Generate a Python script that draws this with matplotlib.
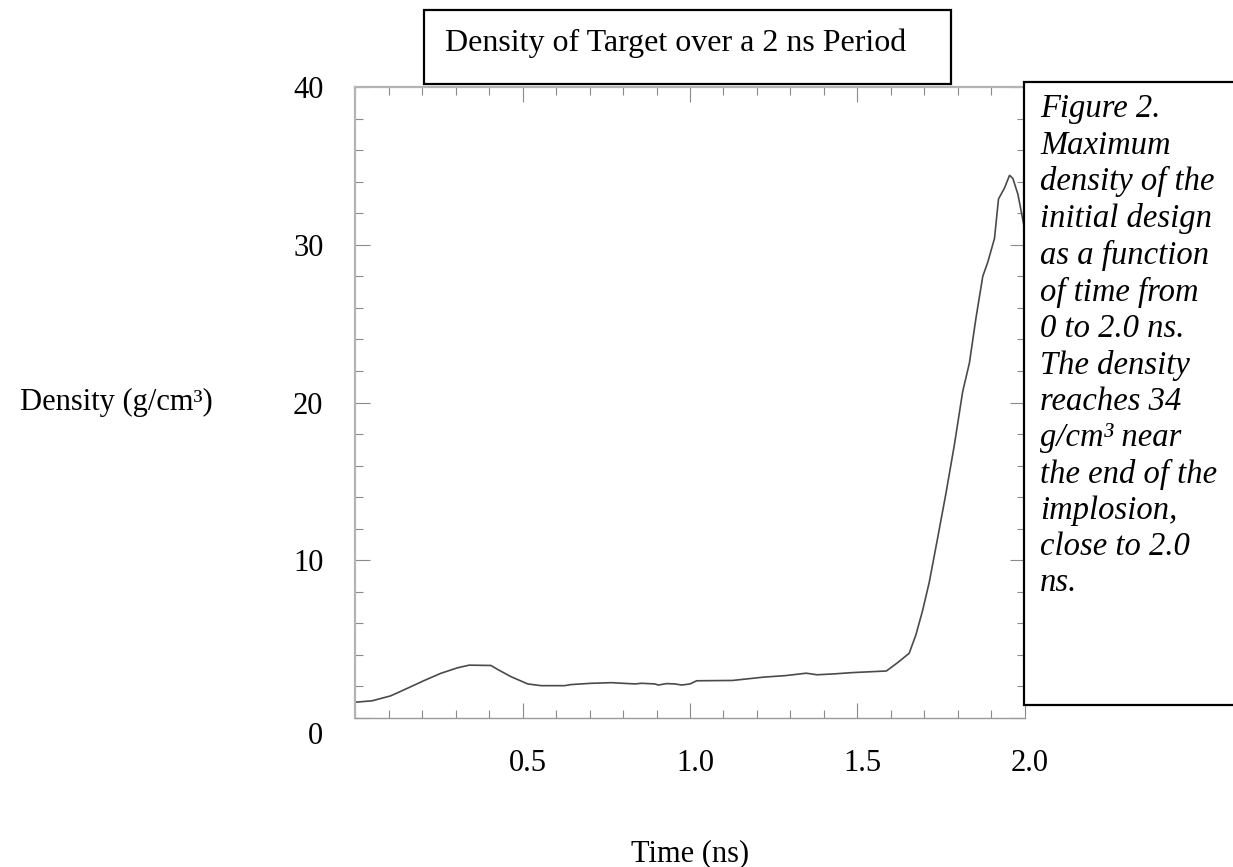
import matplotlib
matplotlib.use("Agg")
import matplotlib.pyplot as plt
import matplotlib.transforms as mtransforms
from matplotlib.patches import Rectangle
from matplotlib.ticker import MultipleLocator

plt.rcParams['font.family'] = ['Liberation Serif', 'DejaVu Serif']

# ===================== Data ==================

time_ns = [0.0, 0.05, 0.105, 0.155, 0.205, 0.255, 0.305, 0.34, 0.405, 0.425,
           0.465, 0.515, 0.555, 0.625, 0.645, 0.705, 0.765, 0.835, 0.855, 0.895,
           0.905, 0.93, 0.955, 0.975, 1.0, 1.02, 1.127, 1.22, 1.287, 1.347,
           1.38, 1.433, 1.487, 1.587, 1.62, 1.655, 1.675, 1.695, 1.715, 1.74,
           1.765, 1.79, 1.815, 1.835, 1.855, 1.875, 1.89, 1.91, 1.922, 1.94,
           1.955, 1.965, 1.98, 2.0]
density = [1.0, 1.09, 1.40, 1.88, 2.37, 2.83, 3.18, 3.35, 3.33, 3.08,
           2.62, 2.16, 2.05, 2.05, 2.12, 2.2, 2.24, 2.16, 2.2, 2.16,
           2.09, 2.18, 2.16, 2.09, 2.16, 2.36, 2.38, 2.59, 2.69, 2.84,
           2.74, 2.80, 2.88, 2.98, 3.5, 4.1, 5.26, 6.8, 8.6, 11.4,
           14.25, 17.3, 20.7, 22.5, 25.4, 28.0, 28.9, 30.4, 32.9, 33.6,
           34.4, 34.2, 33.2, 31.0]

x_ticks = [0.5, 1.0, 1.5, 2.0]
x_tick_labels = ['0.5', '1.0', '1.5', '2.0']
y_ticks = [0, 10, 20, 30, 40]
y_tick_labels = ['0', '10', '20', '30', '40']

title = 'Density of Target over a 2 ns Period'
caption_lines = ['Figure 2.', 'Maximum', 'density of the', 'initial design',
                 'as a function', 'of time from', '0 to 2.0 ns.', 'The density',
                 'reaches 34', 'g/cm\u00b3 near', 'the end of the', 'implosion,',
                 'close to 2.0', 'ns.']

# ===================== Figure ==================

W, H = 1233, 867
fig = plt.figure(figsize=(W / 100, H / 100), dpi=100)
fig.patch.set_facecolor('white')


def fx(px):
    return px / W


def fy(py):
    return 1 - py / H


ax = fig.add_axes([fx(355.4), fy(718), fx(1024.6) - fx(355.4), fy(87) - fy(718)])
ax.plot(time_ns, density, color='#4a4a4a', lw=1.2)
ax.set_xlim(0, 2.0)
ax.set_ylim(0, 40)

ax.set_xticks(x_ticks)
ax.set_xticklabels(x_tick_labels)
ax.set_yticks(y_ticks)
ax.set_yticklabels(y_tick_labels)
ax.xaxis.set_minor_locator(MultipleLocator(0.1))
ax.yaxis.set_minor_locator(MultipleLocator(2))

ax.tick_params(which='both', direction='in', top=True, right=True,
               color='#8a8a8a', width=0.8, labelsize=22)
ax.tick_params(which='major', length=11)
ax.tick_params(which='minor', length=5.5)
ax.tick_params(axis='x', pad=22)
ax.tick_params(axis='y', pad=23)

# the "0" label sits a bit lower than its tick in the original
for lab in ax.get_yticklabels():
    if lab.get_text() == '0':
        lab.set_transform(lab.get_transform() +
                          mtransforms.ScaledTranslation(0, -15 / 100, fig.dpi_scale_trans))
for lab in ax.get_xticklabels():
    lab.set_transform(lab.get_transform() +
                      mtransforms.ScaledTranslation(5 / 100, 0, fig.dpi_scale_trans))

for side in ['left', 'top']:
    ax.spines[side].set_color('#b4b4b4')
    ax.spines[side].set_linewidth(1.6)
ax.spines['bottom'].set_color('#9a9a9a')
ax.spines['bottom'].set_linewidth(1.0)
ax.spines['right'].set_visible(False)

# title box
fig.patches.append(Rectangle((fx(424), fy(84)), fx(951) - fx(424), fy(10) - fy(84),
                             transform=fig.transFigure, facecolor='white',
                             edgecolor='black', lw=1.6, zorder=5))
fig.text(fx(445), fy(43), title, fontsize=23, ha='left', va='center', zorder=6)

# caption box (runs off the right edge)
fig.patches.append(Rectangle((fx(1024), fy(705)), 1.05 - fx(1024), fy(82) - fy(705),
                             transform=fig.transFigure, facecolor='white',
                             edgecolor='black', lw=1.6, zorder=5, clip_on=False))
fig.text(fx(1040), fy(94), '\n'.join(caption_lines), fontsize=23.5, style='italic',
         ha='left', va='top', linespacing=1.24, zorder=6)

# axis labels
fig.text(fx(213), fy(402), 'Density (g/cm\u00b3)', fontsize=22, ha='right', va='center')
fig.text(fx(690), fy(854), 'Time (ns)', fontsize=22, ha='center', va='center')

fig.savefig('out.png', dpi=100)
